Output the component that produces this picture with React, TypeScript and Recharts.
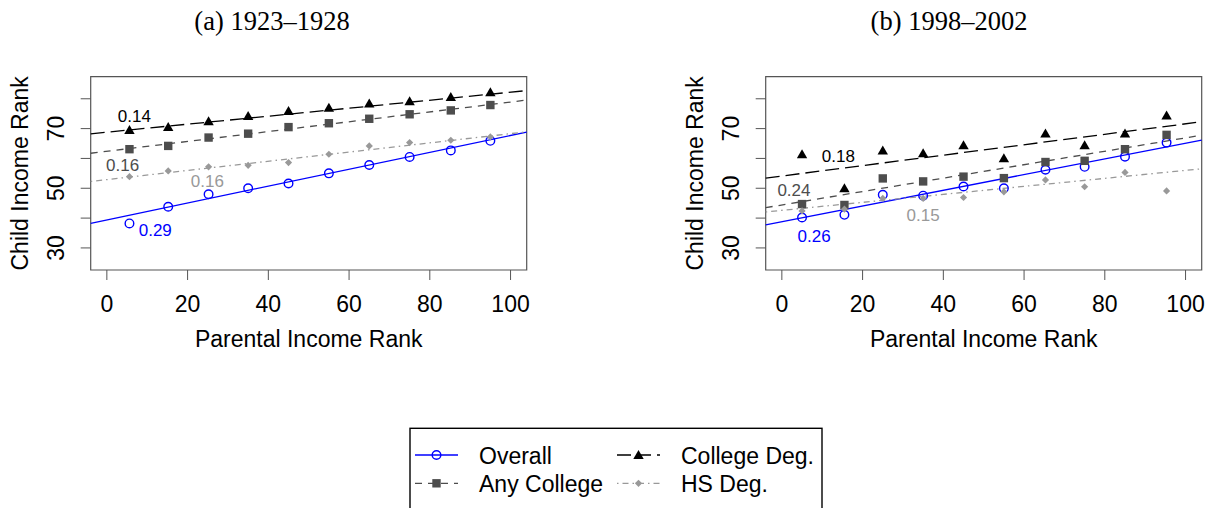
import React from "react";
import { ScatterChart, Scatter, XAxis, YAxis, ReferenceLine, ReferenceArea, ReferenceDot, Label } from "recharts";

document.body.style.margin = "0";

// parental income rank bins
const parentRank1923 = [5.6, 15.2, 25.2, 35, 45, 55, 65, 75, 85.2, 95];
const parentRank1998 = [5, 15.5, 25, 35, 45, 55, 65.3, 75, 85, 95.3];

// child income rank, (a) 1923-1928
const overall1923 = [38.2, 43.8, 48.0, 50.0, 51.6, 55.0, 57.8, 60.5, 62.7, 65.9];
const anyCollege1923 = [63.1, 64.2, 67.0, 68.3, 70.5, 71.8, 73.3, 74.8, 76.1, 77.9];
const collegeDeg1923 = [69.5, 70.5, 72.5, 74.2, 75.9, 77.0, 78.4, 79.2, 80.6, 82.2];
const hsDeg1923 = [53.9, 55.8, 57.2, 57.7, 58.6, 61.4, 64.2, 65.3, 66.1, 67.2];

// child income rank, (b) 1998-2002
const overall1998 = [40.2, 41.1, 47.8, 47.5, 50.6, 50.0, 56.2, 57.2, 60.6, 65.3];
const anyCollege1998 = [44.7, 44.4, 53.3, 52.3, 53.9, 53.4, 58.8, 59.2, 63.1, 67.9];
const collegeDeg1998 = [61.4, 50.0, 62.7, 61.7, 64.4, 60.1, 68.4, 64.4, 68.4, 74.4];
const hsDeg1998 = [42.4, 43.0, 46.6, 46.6, 46.9, 48.8, 52.8, 50.5, 55.3, 49.1];

// fitted lines, order: overall, any college, college deg, hs deg
const fitIntercept1923 = [39.4, 62.4, 68.8, 52.9];
const fitSlope1923 = [0.283, 0.165, 0.134, 0.154];
const fitIntercept1998 = [38.8, 44.4, 54.1, 42.6];
const fitSlope1998 = [0.263, 0.225, 0.175, 0.134];

const slopeText1923 = ["0.29", "0.16", "0.14", "0.16"];
const slopeText1998 = ["0.26", "0.24", "0.18", "0.15"];
// where the slope labels sit, in data units
const slopePos1923 = [[12.0, 36.0], [3.9, 57.7], [6.8, 74.2], [24.9, 52.5]];
const slopePos1998 = [[8.0, 34.1], [3.0, 49.5], [14.0, 60.8], [35.0, 41.0]];

const xTicks = [0, 20, 40, 60, 80, 100];
const yTicks = [30, 40, 50, 60, 70, 80];
const yLabelled = [30, 50, 70];
const X_DOMAIN = [-4, 104];
const Y_DOMAIN = [22.6, 87.4];

const SANS = "'Liberation Sans', Arial, sans-serif";
const SERIF = "'Liberation Serif', 'Times New Roman', serif";

const seriesNames = ["Overall", "Any College", "College Deg.", "HS Deg."];
const seriesColor = ["#0000ff", "#4d4d4d", "#000000", "#999999"];
const lineDash = [undefined, "7 6", "14 6", "1.5 4 6 4"];

const markerShape = (i: number) => (p: any) => {
  const cx = p.cx, cy = p.cy;
  if (i === 0) return <circle cx={cx} cy={cy} r={4.3} fill="none" stroke={seriesColor[0]} strokeWidth={1.4} />;
  if (i === 1) return <rect x={cx - 4.2} y={cy - 4.2} width={8.4} height={8.4} fill={seriesColor[1]} />;
  if (i === 2)
    return <polygon points={`${cx},${cy - 5} ${cx + 5.2},${cy + 4} ${cx - 5.2},${cy + 4}`} fill={seriesColor[2]} />;
  return <polygon points={`${cx},${cy - 3.6} ${cx + 3.6},${cy} ${cx},${cy + 3.6} ${cx - 3.6},${cy}`} fill={seriesColor[3]} />;
};

const XTick = ({ x, y, payload }: any) => (
  <text x={x} y={y + 29.5} textAnchor="middle" fontFamily={SANS} fontSize={23} fill="#000">
    {payload.value}
  </text>
);

const YTick = ({ x, y, payload }: any) =>
  yLabelled.includes(payload.value) ? (
    <text transform={`translate(${x - 14.7},${y}) rotate(-90)`} textAnchor="middle" fontFamily={SANS} fontSize={23} fill="#000">
      {payload.value}
    </text>
  ) : (
    <g />
  );

interface PanelProps {
  left: number;
  rank: number[];
  values: number[][];
  intercepts: number[];
  slopes: number[];
  slopeText: string[];
  slopePos: number[][];
}

const Panel = ({ left, rank, values, intercepts, slopes, slopeText, slopePos }: PanelProps) => (
  <div style={{ position: "absolute", left, top: 0 }}>
    <ScatterChart width={536} height={380} margin={{ top: 76.7, right: 9.3, left: 30.7, bottom: 30 }}>
      <XAxis
        type="number"
        dataKey="x"
        domain={X_DOMAIN}
        ticks={xTicks}
        allowDataOverflow
        height={80}
        tickSize={10}
        axisLine={false}
        tickLine={{ stroke: "#555" }}
        tick={<XTick />}
      >
        <Label
          content={({ viewBox }: any) => (
            <text x={viewBox.x + viewBox.width / 2} y={viewBox.y + 77} textAnchor="middle" fontFamily={SANS} fontSize={23}>
              Parental Income Rank
            </text>
          )}
        />
      </XAxis>
      <YAxis
        type="number"
        dataKey="y"
        domain={Y_DOMAIN}
        ticks={yTicks}
        allowDataOverflow
        width={60}
        tickSize={10}
        axisLine={false}
        tickLine={{ stroke: "#555" }}
        tick={<YTick />}
      >
        <Label
          content={({ viewBox }: any) => {
            const cx = viewBox.x + viewBox.width - 63;
            const cy = viewBox.y + viewBox.height / 2;
            return (
              <text transform={`translate(${cx},${cy}) rotate(-90)`} textAnchor="middle" fontFamily={SANS} fontSize={23}>
                Child Income Rank
              </text>
            );
          }}
        />
      </YAxis>
      <ReferenceArea x1={X_DOMAIN[0]} x2={X_DOMAIN[1]} y1={Y_DOMAIN[0]} y2={Y_DOMAIN[1]} fill="none" stroke="#555" strokeWidth={1.2} />
      {intercepts.map((a, i) => (
        <ReferenceLine
          key={"fit" + i}
          segment={[
            { x: X_DOMAIN[0], y: a + slopes[i] * X_DOMAIN[0] },
            { x: X_DOMAIN[1], y: a + slopes[i] * X_DOMAIN[1] },
          ]}
          stroke={seriesColor[i]}
          strokeWidth={1.3}
          strokeDasharray={lineDash[i]}
        />
      ))}
      {values.map((vals, i) => (
        <Scatter
          key={seriesNames[i]}
          name={seriesNames[i]}
          data={vals.map((v, j) => ({ x: rank[j], y: v }))}
          shape={markerShape(i)}
          isAnimationActive={false}
        />
      ))}
      {slopeText.map((t, i) => (
        <ReferenceDot
          key={"lab" + i}
          x={slopePos[i][0]}
          y={slopePos[i][1]}
          r={0}
          shape={(p: any) => (
            <text x={p.cx} y={p.cy} dy="0.36em" textAnchor="middle" fontFamily={SANS} fontSize={17} fill={seriesColor[i]}>
              {t}
            </text>
          )}
        />
      ))}
    </ScatterChart>
  </div>
);

const LegendBox = () => {
  const rows = [
    { i: 0, x: 15, y: 35 },
    { i: 2, x: 217, y: 35 },
    { i: 1, x: 15, y: 63.3 },
    { i: 3, x: 217, y: 63.3 },
  ];
  return (
    <svg style={{ position: "absolute", left: 400, top: 420 }} width={430} height={88}>
      <rect x={10} y={8.3} width={412} height={100} fill="#fff" stroke="#000" strokeWidth={1.4} />
      {rows.map((r) => (
        <g key={r.i}>
          <line x1={r.x} x2={r.x + 43} y1={r.y} y2={r.y} stroke={seriesColor[r.i]} strokeWidth={1.3} strokeDasharray={lineDash[r.i]} />
          {markerShape(r.i)({ cx: r.x + 21.5, cy: r.y })}
          <text x={r.x + 64} y={r.y + 8.5} fontFamily={SANS} fontSize={23} fill="#000">
            {seriesNames[r.i]}
          </text>
        </g>
      ))}
    </svg>
  );
};

const titleStyle: React.CSSProperties = {
  position: "absolute",
  top: 5,
  width: 300,
  textAlign: "center",
  fontFamily: SERIF,
  fontSize: 26.5,
  lineHeight: "32px",
  color: "#000",
};

export default function App() {
  return (
    <div style={{ position: "relative", width: 1211, height: 508, overflow: "hidden", background: "#fff" }}>
      <div style={{ ...titleStyle, left: 122 }}>(a) 1923–1928</div>
      <div style={{ ...titleStyle, left: 799 }}>(b) 1998–2002</div>
      <Panel
        left={0}
        rank={parentRank1923}
        values={[overall1923, anyCollege1923, collegeDeg1923, hsDeg1923]}
        intercepts={fitIntercept1923}
        slopes={fitSlope1923}
        slopeText={slopeText1923}
        slopePos={slopePos1923}
      />
      <Panel
        left={675.3}
        rank={parentRank1998}
        values={[overall1998, anyCollege1998, collegeDeg1998, hsDeg1998]}
        intercepts={fitIntercept1998}
        slopes={fitSlope1998}
        slopeText={slopeText1998}
        slopePos={slopePos1998}
      />
      <LegendBox />
    </div>
  );
}
